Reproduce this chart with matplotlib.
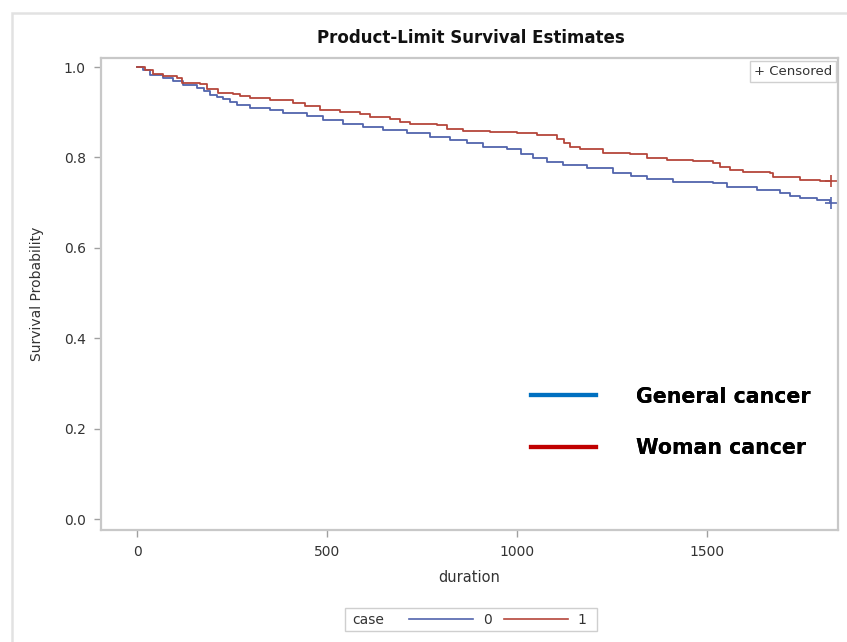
import matplotlib.pyplot as plt
import numpy as np
from matplotlib.lines import Line2D
from matplotlib.patches import Rectangle

# Kaplan-Meier step points (days, survival) for each case group
time_0 = [0, 15, 34, 69, 95, 121, 158, 175, 192, 210, 226, 245, 263, 297, 350,
          384, 447, 490, 542, 595, 647, 710, 771, 824, 868, 911, 974, 1010,
          1042, 1080, 1121, 1184, 1253, 1300, 1342, 1411, 1516, 1553, 1632,
          1692, 1720, 1745, 1790, 1824, 1826]
surv_0 = [1.0, 0.993, 0.982, 0.975, 0.968, 0.960, 0.953, 0.946, 0.938, 0.933,
          0.929, 0.922, 0.916, 0.910, 0.905, 0.898, 0.892, 0.883, 0.875, 0.868,
          0.861, 0.853, 0.845, 0.838, 0.831, 0.822, 0.818, 0.808, 0.798, 0.790,
          0.783, 0.776, 0.765, 0.758, 0.752, 0.746, 0.744, 0.734, 0.728, 0.721,
          0.715, 0.710, 0.705, 0.700, 0.700]

time_1 = [0, 20, 42, 69, 105, 118, 166, 184, 213, 253, 271, 297, 350, 411, 442,
          482, 534, 587, 613, 666, 692, 718, 789, 816, 858, 929, 1000, 1053,
          1105, 1125, 1139, 1166, 1227, 1297, 1342, 1395, 1463, 1516, 1534,
          1560, 1595, 1666, 1674, 1745, 1797, 1826]
surv_1 = [1.0, 0.993, 0.985, 0.981, 0.976, 0.965, 0.962, 0.951, 0.943, 0.940,
          0.936, 0.931, 0.927, 0.921, 0.914, 0.905, 0.900, 0.895, 0.889, 0.886,
          0.879, 0.874, 0.872, 0.864, 0.858, 0.856, 0.853, 0.850, 0.840, 0.832,
          0.824, 0.818, 0.810, 0.808, 0.798, 0.794, 0.792, 0.787, 0.778, 0.773,
          0.768, 0.765, 0.757, 0.751, 0.748, 0.748]

# censored observations (last follow-up)
cens_time_0, cens_surv_0 = [1826], [0.700]
cens_time_1, cens_surv_1 = [1826], [0.748]

group_labels = ['0', '1']
overlay_labels = ['General cancer', 'Woman cancer']

BLUE = '#5264ad'
RED = '#b5463b'
GRID = '#c8c8c8'
TEXT = '#333333'

fig = plt.figure(figsize=(8.47, 6.42), dpi=100)
ax = fig.add_axes([0.1192, 0.1745, 0.8701, 0.7352])

# outer panel border
fig.patches.append(Rectangle((12 / 847, -0.1), 1.2, (642 - 13) / 642 + 0.1,
                             transform=fig.transFigure, fill=False,
                             edgecolor='#e2e2e2', linewidth=1.8))

ax.plot(time_0, surv_0, drawstyle='steps-post', color=BLUE, lw=1.3)
ax.plot(time_1, surv_1, drawstyle='steps-post', color=RED, lw=1.3)
ax.plot(cens_time_0, cens_surv_0, '+', color=BLUE, ms=9, mew=1.2)
ax.plot(cens_time_1, cens_surv_1, '+', color=RED, ms=9, mew=1.2)

ax.set_xlim(-95, 1845)
ax.set_ylim(-0.024, 1.02)
ax.set_xticks([0, 500, 1000, 1500])
ax.set_yticks(np.arange(0, 1.01, 0.2))
ax.yaxis.set_major_formatter(plt.FormatStrFormatter('%.1f'))
ax.tick_params(direction='out', length=5, width=1, color='#a0a0a0',
               labelsize=10, labelcolor=TEXT, pad=6)
for sp in ax.spines.values():
    sp.set_color(GRID)
    sp.set_linewidth(1.6)

ax.set_xlabel('duration', fontsize=10.5, color=TEXT, labelpad=8)
ax.set_ylabel('Survival Probability', fontsize=10, color=TEXT, labelpad=14)
fig.text(0.556, 0.941, 'Product-Limit Survival Estimates', ha='center',
         va='center', fontsize=12, fontweight='bold', color='#111111')

# censored key inside the plot
ax.text(0.992, 0.985, '+ Censored', transform=ax.transAxes, ha='right',
        va='top', fontsize=9.5, color=TEXT,
        bbox=dict(boxstyle='square,pad=0.3', fc='white', ec='#d0d0d0', lw=1))

# overlay legend for the two cohorts
overlay = ax.legend(
    handles=[Line2D([], [], color='#0070c0', lw=3),
             Line2D([], [], color='#c00000', lw=3)],
    labels=overlay_labels, loc='upper left', bbox_to_anchor=(0.558, 0.343),
    frameon=False, handlelength=3.2, handletextpad=1.9, labelspacing=1.55,
    prop=dict(size=14.8, weight='bold'))
ax.add_artist(overlay)

# group legend under the plot
fig.patches.append(Rectangle((345 / 847, 1 - 631 / 642), 252 / 847, 23 / 642,
                             transform=fig.transFigure, fill=False,
                             edgecolor='#cfcfcf', linewidth=1))
fig.text(352 / 847, 1 - 619.5 / 642, 'case', ha='left', va='center',
         fontsize=10, color=TEXT)
fig.legend(handles=[Line2D([], [], color=BLUE, lw=1.2),
                    Line2D([], [], color=RED, lw=1.2)],
           labels=group_labels, loc='center',
           bbox_to_anchor=(498 / 847, 1 - 619.5 / 642), ncol=2, frameon=False,
           handlelength=4.6, handletextpad=0.7, columnspacing=0.9,
           prop=dict(size=10), labelcolor=TEXT)

fig.savefig('out.png', dpi=100)
